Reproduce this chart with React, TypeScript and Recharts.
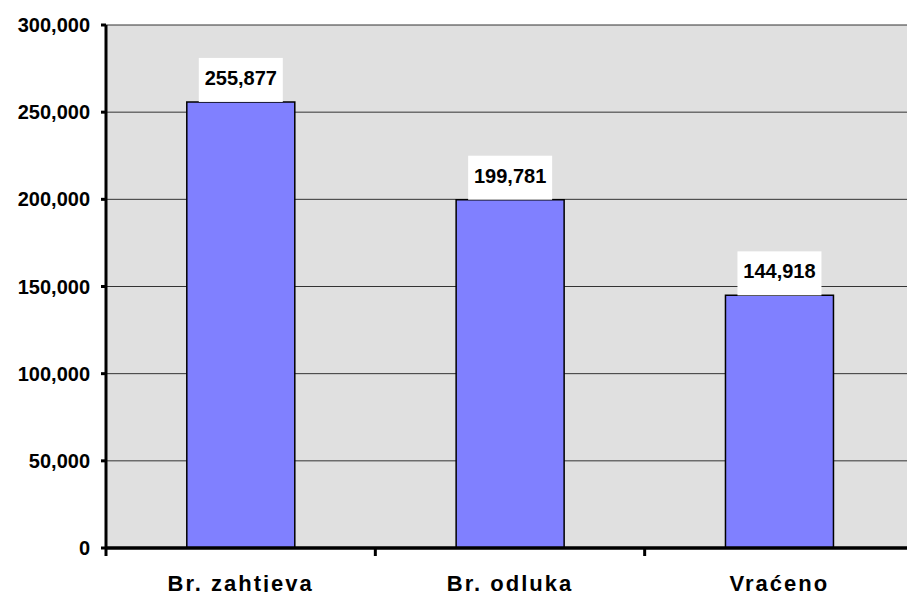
import { BarChart, Bar, XAxis, YAxis, CartesianGrid, LabelList } from 'recharts';

const categories = ['Br. zahtjeva', 'Br. odluka', 'Vraćeno'];
const values = [255877, 199781, 144918];
const yTicks = [0, 50000, 100000, 150000, 200000, 250000, 300000];

const data = categories.map((name, i) => ({ name, value: values[i] }));

const FONT = '"Liberation Sans", Arial, sans-serif';
const CHART_W = 940;
const CHART_H = 620;
const LEFT = 106;
const RIGHT = 26;
const TOP = 25;
const X_AXIS_H = 72;
const PLOT_BOTTOM = CHART_H - X_AXIS_H;
const BAND = (CHART_W - LEFT - RIGHT) / categories.length;

const fmt = (v: number) => v.toLocaleString('en-US');

// label at band centre, tick marks at band boundaries (Excel style)
function CategoryTick(props: any) {
  const { x, payload, index } = props;
  const left = x - BAND / 2;
  return (
    <g>
      <line x1={left} x2={left} y1={PLOT_BOTTOM} y2={PLOT_BOTTOM + 8} stroke="#000" strokeWidth={3} />
      {index === categories.length - 1 && (
        <line x1={left + BAND} x2={left + BAND} y1={PLOT_BOTTOM} y2={PLOT_BOTTOM + 8} stroke="#000" strokeWidth={3} />
      )}
      <text x={x} y={591} textAnchor="middle" fill="#000" fontFamily={FONT}
        fontSize={22} fontWeight="bold" letterSpacing={2}>
        {payload.value}
      </text>
    </g>
  );
}

function ValueLabel(props: any) {
  const { x, y, width, value } = props;
  const cx = x + width / 2;
  const w = 84, h = 44;
  return (
    <g>
      <rect x={cx - w / 2} y={y - h} width={w} height={h} fill="#fff" />
      <text x={cx} y={y - 17} textAnchor="middle" fill="#000" fontFamily={FONT}
        fontSize={20} fontWeight="bold">
        {fmt(value)}
      </text>
    </g>
  );
}

export default function App() {
  return (
    <div style={{ position: 'absolute', left: 0, top: 0, width: 907, height: 592, overflow: 'hidden', background: '#fff' }}>
      <BarChart width={CHART_W} height={CHART_H} data={data} barCategoryGap="30%"
        margin={{ top: TOP, right: RIGHT, bottom: 0, left: 0 }}>
        <CartesianGrid vertical={false} fill="#E0E0E0" stroke="#333" strokeWidth={1} />
        <XAxis dataKey="name" height={X_AXIS_H} interval={0} tickLine={false}
          axisLine={{ stroke: '#000', strokeWidth: 3.5 }} tick={<CategoryTick />} />
        <YAxis width={LEFT} domain={[0, 300000]} ticks={yTicks} tickFormatter={fmt}
          tickSize={5} tickMargin={11}
          axisLine={{ stroke: '#000', strokeWidth: 3 }}
          tickLine={{ stroke: '#000', strokeWidth: 3 }}
          tick={{ fill: '#000', fontSize: 20, fontWeight: 'bold', fontFamily: FONT }} />
        <Bar dataKey="value" fill="#8080FF" stroke="#000" strokeWidth={1.5} isAnimationActive={false}>
          <LabelList dataKey="value" content={<ValueLabel />} />
        </Bar>
      </BarChart>
    </div>
  );
}
